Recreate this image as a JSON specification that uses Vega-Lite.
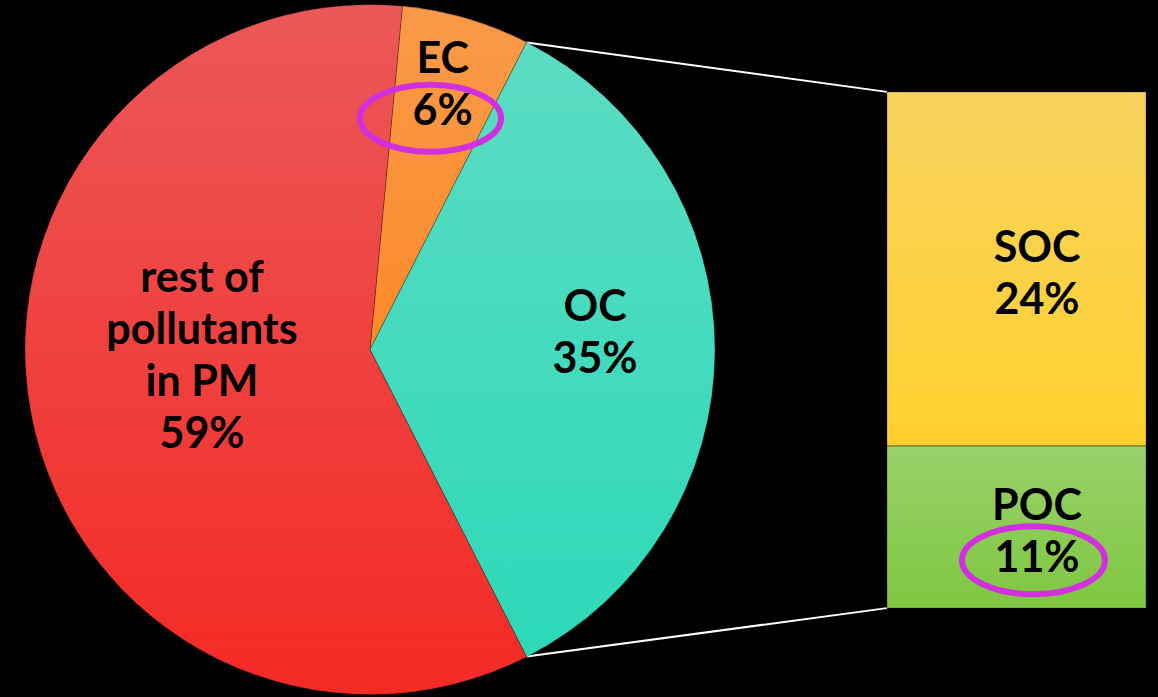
{
  "$schema": "https://vega.github.io/schema/vega-lite/v6.json",
  "width": 1158,
  "height": 697,
  "autosize": {"type": "fit", "contains": "padding"},
  "padding": 0,
  "background": "#000000",
  "config": {
    "view": {"stroke": null},
    "text": {"font": "Lato", "fontWeight": "bold", "fontSize": 43, "lineHeight": 52, "color": "#000000", "baseline": "middle", "align": "center", "lineBreak": "\n"}
  },
  "datasets": {
    "pie": [
      {"cat": "EC", "value": 6, "order": 1, "label": "EC\n6%"},
      {"cat": "OC", "value": 35, "order": 2, "label": "OC\n35%"},
      {"cat": "rest", "value": 59, "order": 3, "label": "rest of\npollutants\nin PM\n59%"}
    ],
    "bar": [
      {"cat": "POC", "value": 11, "order": 1, "label": "POC\n11%"},
      {"cat": "SOC", "value": 24, "order": 2, "label": "SOC\n24%"}
    ]
  },
  "layer": [
    {
      "data": {"values": [{"link": "top"}]},
      "mark": {"type": "rule", "color": "#ffffff", "strokeWidth": 2},
      "encoding": {
        "x": {"datum": 35.65, "type": "quantitative", "scale": {"domain": [0, 78.4], "nice": false, "zero": false}, "axis": null},
        "y": {"datum": 38.34, "type": "quantitative", "scale": {"domain": [-5.958, 41.229], "nice": false, "zero": false}, "axis": null},
        "x2": {"datum": 60.05},
        "y2": {"datum": 35}
      }
    },
    {
      "data": {"values": [{"link": "bottom"}]},
      "mark": {"type": "rule", "color": "#ffffff", "strokeWidth": 2},
      "encoding": {
        "x": {"datum": 35.65, "type": "quantitative", "scale": {"domain": [0, 78.4], "nice": false, "zero": false}, "axis": null},
        "y": {"datum": -3.28, "type": "quantitative", "scale": {"domain": [-5.958, 41.229], "nice": false, "zero": false}, "axis": null},
        "x2": {"datum": 60.05},
        "y2": {"datum": 0}
      }
    },
    {
      "data": {"name": "pie"},
      "mark": {"type": "arc", "radius": 345, "stroke": "#000000", "strokeOpacity": 0.25, "strokeWidth": 1},
      "encoding": {
        "x": {"datum": 25.05, "type": "quantitative", "scale": {"domain": [0, 78.4], "nice": false, "zero": false}, "axis": null},
        "y": {"datum": 17.53, "type": "quantitative", "scale": {"domain": [-5.958, 41.229], "nice": false, "zero": false}, "axis": null},
        "theta": {"field": "value", "type": "quantitative", "stack": true, "scale": {"range": [0.0942, 6.3774]}},
        "order": {"field": "order", "type": "quantitative"},
        "fill": {
          "condition": [
            {"test": "datum.cat === 'EC'", "value": {"gradient": "linear", "x1": 0, "y1": 0, "x2": 0, "y2": 1, "stops": [{"offset": 0, "color": "#f99a4a"}, {"offset": 1, "color": "#fd8a2a"}]}},
            {"test": "datum.cat === 'OC'", "value": {"gradient": "linear", "x1": 0, "y1": 0, "x2": 0, "y2": 1, "stops": [{"offset": 0, "color": "#5cdcc3"}, {"offset": 1, "color": "#2cd9b7"}]}}
          ],
          "value": {"gradient": "linear", "x1": 0, "y1": 0, "x2": 0, "y2": 1, "stops": [{"offset": 0, "color": "#eb5858"}, {"offset": 1, "color": "#f42a25"}]}
        }
      }
    },
    {
      "data": {"name": "pie"},
      "mark": {"type": "text", "radius": 275, "dx": -4, "dy": -25},
      "encoding": {
        "x": {"datum": 25.05, "type": "quantitative", "scale": {"domain": [0, 78.4], "nice": false, "zero": false}, "axis": null},
        "y": {"datum": 17.53, "type": "quantitative", "scale": {"domain": [-5.958, 41.229], "nice": false, "zero": false}, "axis": null},
        "theta": {"field": "value", "type": "quantitative", "stack": true, "scale": {"range": [0.0942, 6.3774]}},
        "order": {"field": "order", "type": "quantitative"},
        "text": {"condition": {"test": "datum.cat === 'EC'", "field": "label", "type": "nominal"}, "value": ""}
      }
    },
    {
      "data": {"name": "pie"},
      "mark": {"type": "text", "radius": 225, "dy": -42},
      "encoding": {
        "x": {"datum": 25.05, "type": "quantitative", "scale": {"domain": [0, 78.4], "nice": false, "zero": false}, "axis": null},
        "y": {"datum": 17.53, "type": "quantitative", "scale": {"domain": [-5.958, 41.229], "nice": false, "zero": false}, "axis": null},
        "theta": {"field": "value", "type": "quantitative", "stack": true, "scale": {"range": [0.0942, 6.3774]}},
        "order": {"field": "order", "type": "quantitative"},
        "text": {"condition": {"test": "datum.cat === 'OC'", "field": "label", "type": "nominal"}, "value": ""}
      }
    },
    {
      "data": {"name": "pie"},
      "mark": {"type": "text", "radius": 171, "dy": -103},
      "encoding": {
        "x": {"datum": 25.05, "type": "quantitative", "scale": {"domain": [0, 78.4], "nice": false, "zero": false}, "axis": null},
        "y": {"datum": 17.53, "type": "quantitative", "scale": {"domain": [-5.958, 41.229], "nice": false, "zero": false}, "axis": null},
        "theta": {"field": "value", "type": "quantitative", "stack": true, "scale": {"range": [0.0942, 6.3774]}},
        "order": {"field": "order", "type": "quantitative"},
        "text": {"condition": {"test": "datum.cat === 'rest'", "field": "label", "type": "nominal"}, "value": ""}
      }
    },
    {
      "data": {"name": "bar"},
      "transform": [{"stack": "value", "groupby": [], "sort": [{"field": "order", "order": "ascending"}], "as": ["y0", "y1"]}],
      "mark": {"type": "rect", "stroke": "#000000", "strokeOpacity": 0.3, "strokeWidth": 1},
      "encoding": {
        "x": {"datum": 60.05, "type": "quantitative", "scale": {"domain": [0, 78.4], "nice": false, "zero": false}, "axis": null},
        "x2": {"datum": 77.59},
        "y": {"field": "y0", "type": "quantitative", "scale": {"domain": [-5.958, 41.229], "nice": false, "zero": false}, "axis": null},
        "y2": {"field": "y1"},
        "fill": {
          "condition": {"test": "datum.cat === 'SOC'", "value": {"gradient": "linear", "x1": 0, "y1": 0, "x2": 0, "y2": 1, "stops": [{"offset": 0, "color": "#f9d35f"}, {"offset": 1, "color": "#ffd02e"}]}},
          "value": {"gradient": "linear", "x1": 0, "y1": 0, "x2": 0, "y2": 1, "stops": [{"offset": 0, "color": "#99d16a"}, {"offset": 1, "color": "#7fc741"}]}
        }
      }
    },
    {
      "data": {"name": "bar"},
      "mark": {"type": "text", "dy": -20},
      "encoding": {
        "x": {"datum": 70.21, "type": "quantitative", "scale": {"domain": [0, 78.4], "nice": false, "zero": false}, "axis": null},
        "y": {"field": "value", "type": "quantitative", "stack": true, "bandPosition": 0.5, "scale": {"domain": [-5.958, 41.229], "nice": false, "zero": false}, "axis": null},
        "order": {"field": "order", "type": "quantitative"},
        "text": {"field": "label", "type": "nominal"}
      }
    },
    {
      "data": {"values": [{"note": "EC share"}]},
      "mark": {"type": "point", "shape": "M-1,0 C-1,-0.2623 -0.5523,-0.475 0,-0.475 C0.5523,-0.475 1,-0.2623 1,0 C1,0.2623 0.5523,0.475 0,0.475 C-0.5523,0.475 -1,0.2623 -1,0 Z", "size": 19881, "filled": false, "stroke": "#d22fe0", "strokeWidth": 6, "opacity": 1},
      "encoding": {
        "x": {"datum": 29.15, "type": "quantitative", "scale": {"domain": [0, 78.4], "nice": false, "zero": false}, "axis": null},
        "y": {"datum": 33.21, "type": "quantitative", "scale": {"domain": [-5.958, 41.229], "nice": false, "zero": false}, "axis": null}
      }
    },
    {
      "data": {"values": [{"note": "POC share"}]},
      "mark": {"type": "point", "shape": "M-1,0 C-1,-0.2623 -0.5523,-0.475 0,-0.475 C0.5523,-0.475 1,-0.2623 1,0 C1,0.2623 0.5523,0.475 0,0.475 C-0.5523,0.475 -1,0.2623 -1,0 Z", "size": 20449, "filled": false, "stroke": "#d22fe0", "strokeWidth": 6, "opacity": 1},
      "encoding": {
        "x": {"datum": 69.97, "type": "quantitative", "scale": {"domain": [0, 78.4], "nice": false, "zero": false}, "axis": null},
        "y": {"datum": 3.25, "type": "quantitative", "scale": {"domain": [-5.958, 41.229], "nice": false, "zero": false}, "axis": null}
      }
    }
  ]
}
